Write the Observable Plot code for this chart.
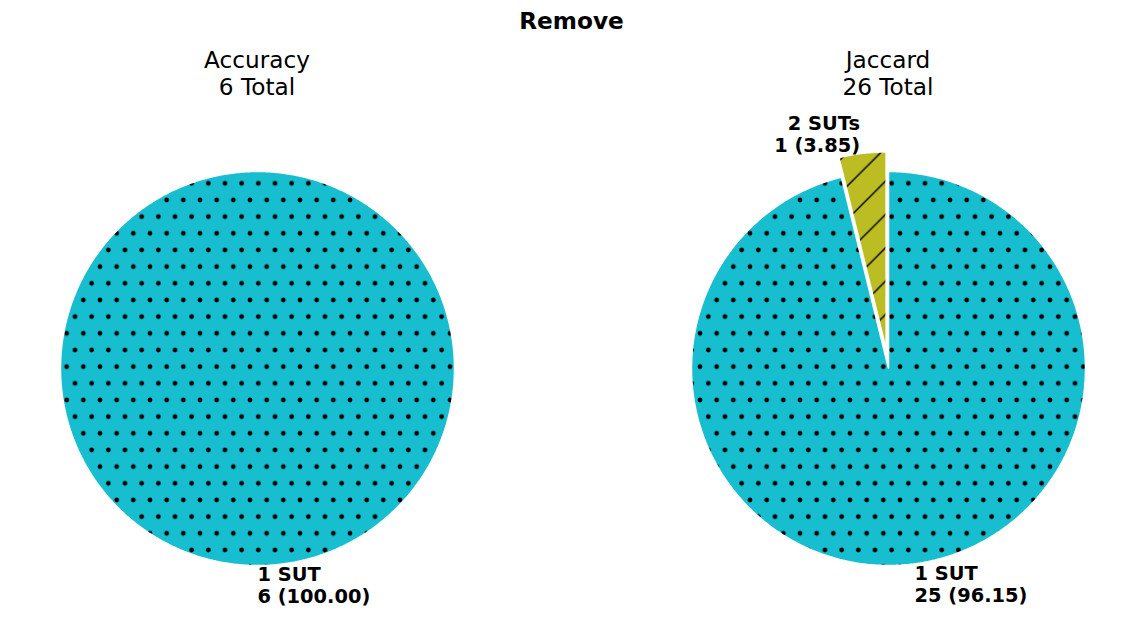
<!DOCTYPE html>
<html>
<head>
<meta charset="utf-8">
<script src="https://cdn.jsdelivr.net/npm/d3@7"></script>
<script src="https://cdn.jsdelivr.net/npm/@observablehq/plot@0.6"></script>
<style>
  html, body { margin: 0; padding: 0; background: white; }
  body { width: 1143px; height: 617px; position: relative; overflow: hidden; font-family: "DejaVu Sans", sans-serif; color: black; }
  .t { position: absolute; text-align: center; white-space: pre; line-height: 27px; font-size: 23.2px; }
  .chart { position: absolute; }
</style>
</head>
<body>
<div id="root"></div>
<script>
// ---- data ----
const figureTitle = "Remove";
const metrics = ["Accuracy", "Jaccard"];
const totals = [6, 26];
const sliceLabels = [["1 SUT"], ["1 SUT", "2 SUTs"]];
const sliceCounts = [[6], [25, 1]];

// ---- styling / layout ----
const explodeFor = {"1 SUT": 0, "2 SUTs": 0.1};
const baseColor = {"1 SUT": "#17becf", "2 SUTs": "#bcbd22"};
const patternKind = {"1 SUT": "dots", "2 SUTs": "hatch"};
const R = 197;            // pie radius in px
const centersX = [257, 888];
const centerY = 368;
const chartTop = 105, chartH = 512;
const chartBoxes = [{left: 0, width: 514}, {left: 631, width: 512}];

const root = document.getElementById("root");
const title = document.createElement("div");
title.className = "t";
title.style.cssText = "left:0;width:1143px;top:6.5px;font-weight:bold;";
title.textContent = figureTitle;
root.appendChild(title);

metrics.forEach((m, i) => {
  const d = document.createElement("div");
  d.className = "t";
  d.style.cssText = `left:${centersX[i] - 200}px;width:400px;top:45.5px;`;
  d.textContent = `${m}\n${totals[i]} Total`;
  root.appendChild(d);
});

function buildChart(i) {
  const labels = sliceLabels[i], counts = sliceCounts[i];
  const total = d3.sum(counts);
  const pts = [];
  const lab = [];
  let t1 = 90;
  labels.forEach((name, k) => {
    const frac = counts[k] / total;
    const t2 = t1 - 360 * frac;
    const mid = (t1 + t2) / 2 * Math.PI / 180;
    const ex = explodeFor[name] || 0;
    const cx = ex * Math.cos(mid), cy = ex * Math.sin(mid);
    const full = Math.abs(t1 - t2 - 360) < 1e-9;
    if (!full) pts.push({name, x: cx, y: cy, pat: `url(#${patternKind[name]}-${i})`});
    const n = Math.max(2, Math.ceil(Math.abs(t1 - t2) / 0.5));
    for (let s = 0; s <= n; s++) {
      const a = (t1 + (t2 - t1) * s / n) * Math.PI / 180;
      pts.push({name, x: cx + Math.cos(a), y: cy + Math.sin(a), pat: `url(#${patternKind[name]}-${i})`});
    }
    const lx = cx + 1.1 * Math.cos(mid), ly = cy + 1.1 * Math.sin(mid);
    lab.push({x: lx, y: ly, anchor: lx > 0 ? "start" : "end",
      text: `${name}\n${counts[k]} (${(100 * frac).toFixed(2)})`});
    t1 = t2;
  });

  const box = chartBoxes[i];
  const cxPx = centersX[i] - box.left, cyPx = centerY - chartTop;
  const xDomain = [-cxPx / R, (box.width - cxPx) / R];
  const yDomain = [-(chartH - cyPx) / R, cyPx / R];

  const textOpts = {x: "x", y: "y", text: "text", lineAnchor: "middle", fontWeight: "bold",
    fontSize: 19.4, lineHeight: 1.14, fill: "black"};

  const svg = Plot.plot({
    width: box.width, height: chartH,
    margin: 0,
    x: {domain: xDomain, axis: null},
    y: {domain: yDomain, axis: null},
    color: {type: "identity"},
    style: {fontFamily: "DejaVu Sans, sans-serif", background: "white", overflow: "visible"},
    marks: [
      Plot.line(pts, {x: "x", y: "y", z: "name", fill: "pat", stroke: "white", strokeWidth: 1.5,
        curve: "linear-closed", strokeLinejoin: "miter"}),
      Plot.text(lab.filter(d => d.anchor === "start"), {...textOpts, textAnchor: "start"}),
      Plot.text(lab.filter(d => d.anchor === "end"), {...textOpts, textAnchor: "end"})
    ]
  });

  // patterns aligned to page coordinates
  const defs = d3.select(svg).insert("defs", ":first-child");
  const ox = -box.left - 0.5, oy = -chartTop - 0.5;
  const s = 100 / 6;
  const dp = defs.append("pattern").attr("id", `dots-${i}`).attr("patternUnits", "userSpaceOnUse")
    .attr("x", ox).attr("y", oy).attr("width", s).attr("height", 2 * s);
  dp.append("rect").attr("width", s).attr("height", 2 * s).attr("fill", baseColor["1 SUT"]);
  [[0, 0], [s, 0], [s / 2, s], [0, 2 * s], [s, 2 * s]].forEach(([a, b]) =>
    dp.append("circle").attr("cx", a).attr("cy", b).attr("r", 2.4).attr("fill", "black"));
  const h = 2 * s;
  const hp = defs.append("pattern").attr("id", `hatch-${i}`).attr("patternUnits", "userSpaceOnUse")
    .attr("x", ox).attr("y", oy).attr("width", h).attr("height", h);
  hp.append("rect").attr("width", h).attr("height", h).attr("fill", baseColor["2 SUTs"]);
  [[0, h, h, 0], [-3, 3, 3, -3], [h - 3, h + 3, h + 3, h - 3]].forEach(([a, b, c, e]) =>
    hp.append("line").attr("x1", a).attr("y1", b).attr("x2", c).attr("y2", e)
      .attr("stroke", "black").attr("stroke-width", 1.5));

  const wrap = document.createElement("div");
  wrap.className = "chart";
  wrap.style.left = box.left + "px";
  wrap.style.top = chartTop + "px";
  wrap.appendChild(svg);
  root.appendChild(wrap);
}

metrics.forEach((m, i) => buildChart(i));
</script>
</body>
</html>
